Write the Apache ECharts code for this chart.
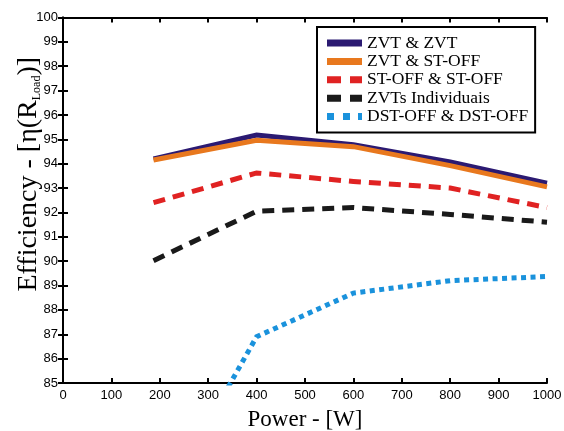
<!DOCTYPE html>
<html><head><meta charset="utf-8">
<script src="https://cdn.jsdelivr.net/npm/echarts@6/dist/echarts.min.js"></script>
<style>html,body{margin:0;padding:0;background:#fff}#c{width:564px;height:431px}</style>
</head><body><div id="c"></div>
<script>
const power = [187, 400, 600, 800, 1000];
const zvtZvt = [94.2, 95.18, 94.78, 94.07, 93.2];
const zvtStoff = [94.15, 94.96, 94.7, 93.92, 93.05];
const stoffStoff = [92.4, 93.62, 93.27, 93.0, 92.2];
const zvtsIndividuais = [90.02, 92.05, 92.2, 91.92, 91.6];
const dstoffDstoff = [79.4, 86.9, 88.69, 89.2, 89.37];
const xTicks = [0, 100, 200, 300, 400, 500, 600, 700, 800, 900, 1000];
const yTicks = [85, 86, 87, 88, 89, 90, 91, 92, 93, 94, 95, 96, 97, 98, 99, 100];
const names = ['ZVT & ZVT', 'ZVT & ST-OFF', 'ST-OFF & ST-OFF', 'ZVTs Individuais', 'DST-OFF & DST-OFF'];

const pair = (ys) => power.map((x, i) => [x, ys[i]]);
const chart = echarts.init(document.getElementById('c'));
const serif = 'Liberation Serif';
const sans = 'Liberation Sans';
const axisLine = {show: true, lineStyle: {color: '#000', width: 2}};
const tick = {show: true, inside: true, length: 5, lineStyle: {color: '#000', width: 2}};
const iconSolid = 'path://M0,0H35V7H0Z';
const iconDash = 'path://M0,0H14V7H0Z M23,0H35V7H23Z';
const iconDot = 'path://M0,0H7V7H0Z M16,0H23V7H16Z M31,0H35V7H31Z';
function mk(name, ys, color, width, dash) {
  return {
    name, type: 'line', data: pair(ys), showSymbol: false, symbol: 'none', clip: true,
    lineStyle: {color, width, type: dash, cap: 'butt', join: 'miter'},
    itemStyle: {color}, animation: false
  };
}
chart.setOption({
  animation: false,
  grid: {left: 63, right: 17, top: 17.5, bottom: 48, show: false, outerBoundsMode: 'none', containLabel: false},
  legend: {
    orient: 'vertical', left: 317, top: 27,
    backgroundColor: '#fff', borderColor: '#000', borderWidth: 2,
    padding: [7, 7, 7, 10], itemWidth: 35, itemHeight: 7, itemGap: 0.4, itemTextGap: 8,
    symbolKeepAspect: false,
    itemStyle: {borderWidth: 0},
    textStyle: {fontFamily: serif, fontSize: 17.5, color: '#000', lineHeight: 17},
    data: [
      {name: names[0], icon: iconSolid},
      {name: names[1], icon: iconSolid},
      {name: names[2], icon: iconDash},
      {name: names[3], icon: iconDash},
      {name: names[4], icon: iconDot}
    ]
  },
  xAxis: [{
    type: 'value', min: 0, max: 1000, interval: 100,
    axisLine, axisTick: tick, splitLine: {show: false},
    axisLabel: {fontFamily: sans, fontSize: 13, color: '#000', margin: 6,
      formatter: v => xTicks.includes(v) ? String(v) : ''},
    name: 'Power - [W]', nameLocation: 'middle', nameGap: 25, nameMoveOverlap: false,
    nameTextStyle: {fontFamily: serif, fontSize: 23, color: '#000'}
  }, {
    type: 'value', position: 'top', min: 0, max: 1000, interval: 100,
    axisLine, axisTick: tick, axisLabel: {show: false}, splitLine: {show: false}
  }],
  yAxis: [{
    type: 'value', min: 85, max: 100, interval: 1,
    axisLine, axisTick: tick, splitLine: {show: false},
    axisLabel: {fontFamily: sans, fontSize: 13, color: '#000', margin: 5,
      formatter: v => yTicks.includes(v) ? String(v) : ''},
    name: '{a|Efficiency - [η(R}{s|Load}{a|)]}', nameLocation: 'middle', nameGap: 20, nameMoveOverlap: false,
    nameTextStyle: {fontFamily: serif, fontSize: 28, color: '#000', padding: [0, 0, 0, 52],
      rich: {a: {fontFamily: serif, fontSize: 28, color: '#000'},
             s: {fontFamily: serif, fontSize: 12, color: '#000', verticalAlign: 'bottom', padding: [12, 0, 0, 0]}}}
  }, {
    type: 'value', position: 'right', min: 85, max: 100, interval: 1,
    axisLine, axisTick: tick, axisLabel: {show: false}, splitLine: {show: false}
  }],
  series: [
    mk(names[0], zvtZvt, '#2b1a72', 5, 'solid'),
    mk(names[1], zvtStoff, '#e8781e', 5, 'solid'),
    mk(names[2], stoffStoff, '#e02222', 5, [12, 8]),
    mk(names[3], zvtsIndividuais, '#1a1a1a', 5, [12, 8]),
    mk(names[4], dstoffDstoff, '#1a92dc', 5, [5, 4.5])
  ]
});
</script></body></html>
